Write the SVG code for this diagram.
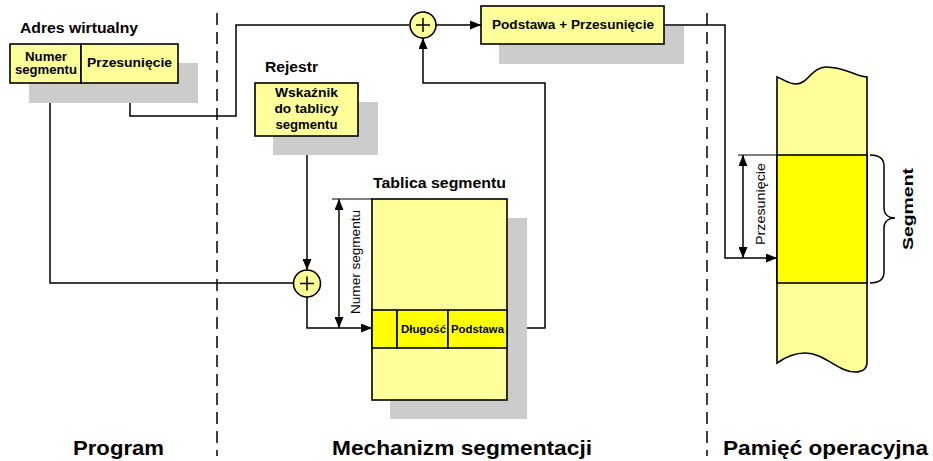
<svg xmlns="http://www.w3.org/2000/svg" width="933" height="461" viewBox="0 0 933 461">
  <style>
    .box { fill: #FFFF99; stroke: #000; stroke-width: 1.6; }
    .hot { fill: #FFFF00; stroke: #000; stroke-width: 1.6; }
    .shadow { fill: #CCCCCC; }
    .wire { fill: none; stroke: #000; stroke-width: 1.5; }
    .thin { fill: none; stroke: #000; stroke-width: 1; }
    .dash { fill: none; stroke: #000; stroke-width: 1.5; stroke-dasharray: 12 7; }
    .t { font-family: "Liberation Sans", Arial, sans-serif; fill: #000; }
    .b { font-weight: bold; }
    .c { text-anchor: middle; }
  </style>
  <defs>
    <marker id="arr" markerUnits="userSpaceOnUse" markerWidth="11" markerHeight="9" refX="11" refY="4.5" orient="auto-start-reverse">
      <path d="M0,0 L11,4.5 L0,9 Z" fill="#000"/>
    </marker>
  </defs>

  <rect width="933" height="461" fill="#FFFFFF"/>

  <!-- section separators -->
  <g id="separators">
    <line class="dash" x1="217" y1="13" x2="217" y2="456"/>
    <line class="dash" x1="707" y1="13" x2="707" y2="456"/>
  </g>

  <!-- connectors -->
  <g id="connectors">
    <path class="wire" d="M50,83 V283 H293"/>
    <path class="wire" d="M130,83 V116 H236 V25 H409"/>
    <path class="wire" d="M436,25 H481" marker-end="url(#arr)"/>
    <path class="wire" d="M664,25 H725 V258 H777" marker-end="url(#arr)"/>
    <path class="wire" d="M307,136 V270" marker-end="url(#arr)"/>
    <path class="wire" d="M307,297 V328 H372" marker-end="url(#arr)"/>
    <path class="wire" d="M507,328 H545 V83 H423 V38" marker-end="url(#arr)"/>
  </g>

  <!-- virtual address -->
  <g id="virtual-address">
    <text class="t b" x="20" y="33" font-size="14" textLength="118" lengthAdjust="spacingAndGlyphs">Adres wirtualny</text>
    <rect class="shadow" x="29" y="63" width="169" height="40"/>
    <rect class="box" x="10" y="44" width="71" height="39"/>
    <rect class="box" x="81" y="44" width="97" height="39"/>
    <text class="t b c" x="46" y="61" font-size="12" textLength="42" lengthAdjust="spacingAndGlyphs">Numer</text>
    <text class="t b c" x="46" y="74" font-size="12" textLength="62" lengthAdjust="spacingAndGlyphs">segmentu</text>
    <text class="t b c" x="129.5" y="67" font-size="12.5" textLength="85" lengthAdjust="spacingAndGlyphs">Przesunięcie</text>
  </g>

  <!-- register -->
  <g id="register">
    <text class="t b" x="265" y="72" font-size="14" textLength="53" lengthAdjust="spacingAndGlyphs">Rejestr</text>
    <rect class="shadow" x="273" y="102" width="105" height="53"/>
    <rect class="box" x="255" y="83" width="103" height="53"/>
    <text class="t b c" x="306.5" y="97" font-size="12" textLength="63" lengthAdjust="spacingAndGlyphs">Wskaźnik</text>
    <text class="t b c" x="306.5" y="113" font-size="12" textLength="64" lengthAdjust="spacingAndGlyphs">do tablicy</text>
    <text class="t b c" x="306.5" y="129" font-size="12" textLength="62" lengthAdjust="spacingAndGlyphs">segmentu</text>
  </g>

  <!-- adders -->
  <g id="adder-top">
    <circle class="box" cx="423" cy="25" r="13"/>
    <path class="wire" d="M416,25 H430 M423,18 V32" stroke-width="1.8"/>
  </g>
  <g id="adder-bottom">
    <circle class="box" cx="307" cy="283.5" r="13.5"/>
    <path class="wire" d="M300,283.5 H314 M307,276.5 V290.5" stroke-width="1.8"/>
  </g>

  <!-- physical address -->
  <g id="physical-address">
    <rect class="shadow" x="499" y="26" width="185" height="38"/>
    <rect class="box" x="481" y="6" width="183" height="38"/>
    <text class="t b c" x="573" y="29" font-size="12.5" textLength="162" lengthAdjust="spacingAndGlyphs">Podstawa + Przesunięcie</text>
  </g>

  <!-- segment table -->
  <g id="segment-table">
    <text class="t b" x="373" y="188" font-size="14" textLength="133" lengthAdjust="spacingAndGlyphs">Tablica segmentu</text>
    <rect class="shadow" x="390" y="218" width="137" height="201"/>
    <rect class="box" x="372" y="199" width="135" height="201"/>
    <rect class="hot" x="372" y="310" width="25" height="38"/>
    <rect class="hot" x="397" y="310" width="51" height="38"/>
    <rect class="hot" x="448" y="310" width="59" height="38"/>
    <text class="t b c" x="423.5" y="333" font-size="11" textLength="45" lengthAdjust="spacingAndGlyphs">Długość</text>
    <text class="t b c" x="477.5" y="333" font-size="11" textLength="53" lengthAdjust="spacingAndGlyphs">Podstawa</text>
    <line class="thin" x1="332" y1="199" x2="372" y2="199"/>
    <line class="wire" x1="339" y1="199" x2="339" y2="328" marker-start="url(#arr)" marker-end="url(#arr)"/>
    <text class="t c" transform="translate(360,262) rotate(-90)" font-size="12" textLength="104" lengthAdjust="spacingAndGlyphs">Numer segmentu</text>
  </g>

  <!-- main memory -->
  <g id="memory">
    <path class="box" d="M777,77 C785,80 789,84 796,84 C808,84 812,67 826,67 C846,67 856,77 867,77 L867,362 C867,368 863,372 855,372 C838,372 825,353 805,353 C795,353 787,356 777,363 Z"/>
    <rect class="hot" x="777" y="155" width="90" height="128"/>
    <line class="thin" x1="738" y1="155" x2="777" y2="155"/>
    <line class="wire" x1="743" y1="155" x2="743" y2="258" marker-start="url(#arr)" marker-end="url(#arr)"/>
    <text class="t c" transform="translate(765,204) rotate(-90)" font-size="12" textLength="82" lengthAdjust="spacingAndGlyphs">Przesunięcie</text>
  </g>

  <!-- segment brace -->
  <g id="segment-brace">
    <path class="wire" d="M870,155 C878,155 884,158 884,166 L884,208 C884,214 888,218 895,218 C888,218 884,222 884,228 L884,272 C884,280 878,283 870,283"/>
    <text class="t b c" transform="translate(913,209) rotate(-90)" font-size="15" textLength="82" lengthAdjust="spacingAndGlyphs">Segment</text>
  </g>

  <!-- section titles -->
  <g id="titles">
    <text class="t b" x="73" y="455" font-size="20" textLength="91" lengthAdjust="spacingAndGlyphs">Program</text>
    <text class="t b" x="332" y="455" font-size="20" textLength="260" lengthAdjust="spacingAndGlyphs">Mechanizm segmentacji</text>
    <text class="t b" x="723" y="455" font-size="20" textLength="205" lengthAdjust="spacingAndGlyphs">Pamięć operacyjna</text>
  </g>
</svg>
